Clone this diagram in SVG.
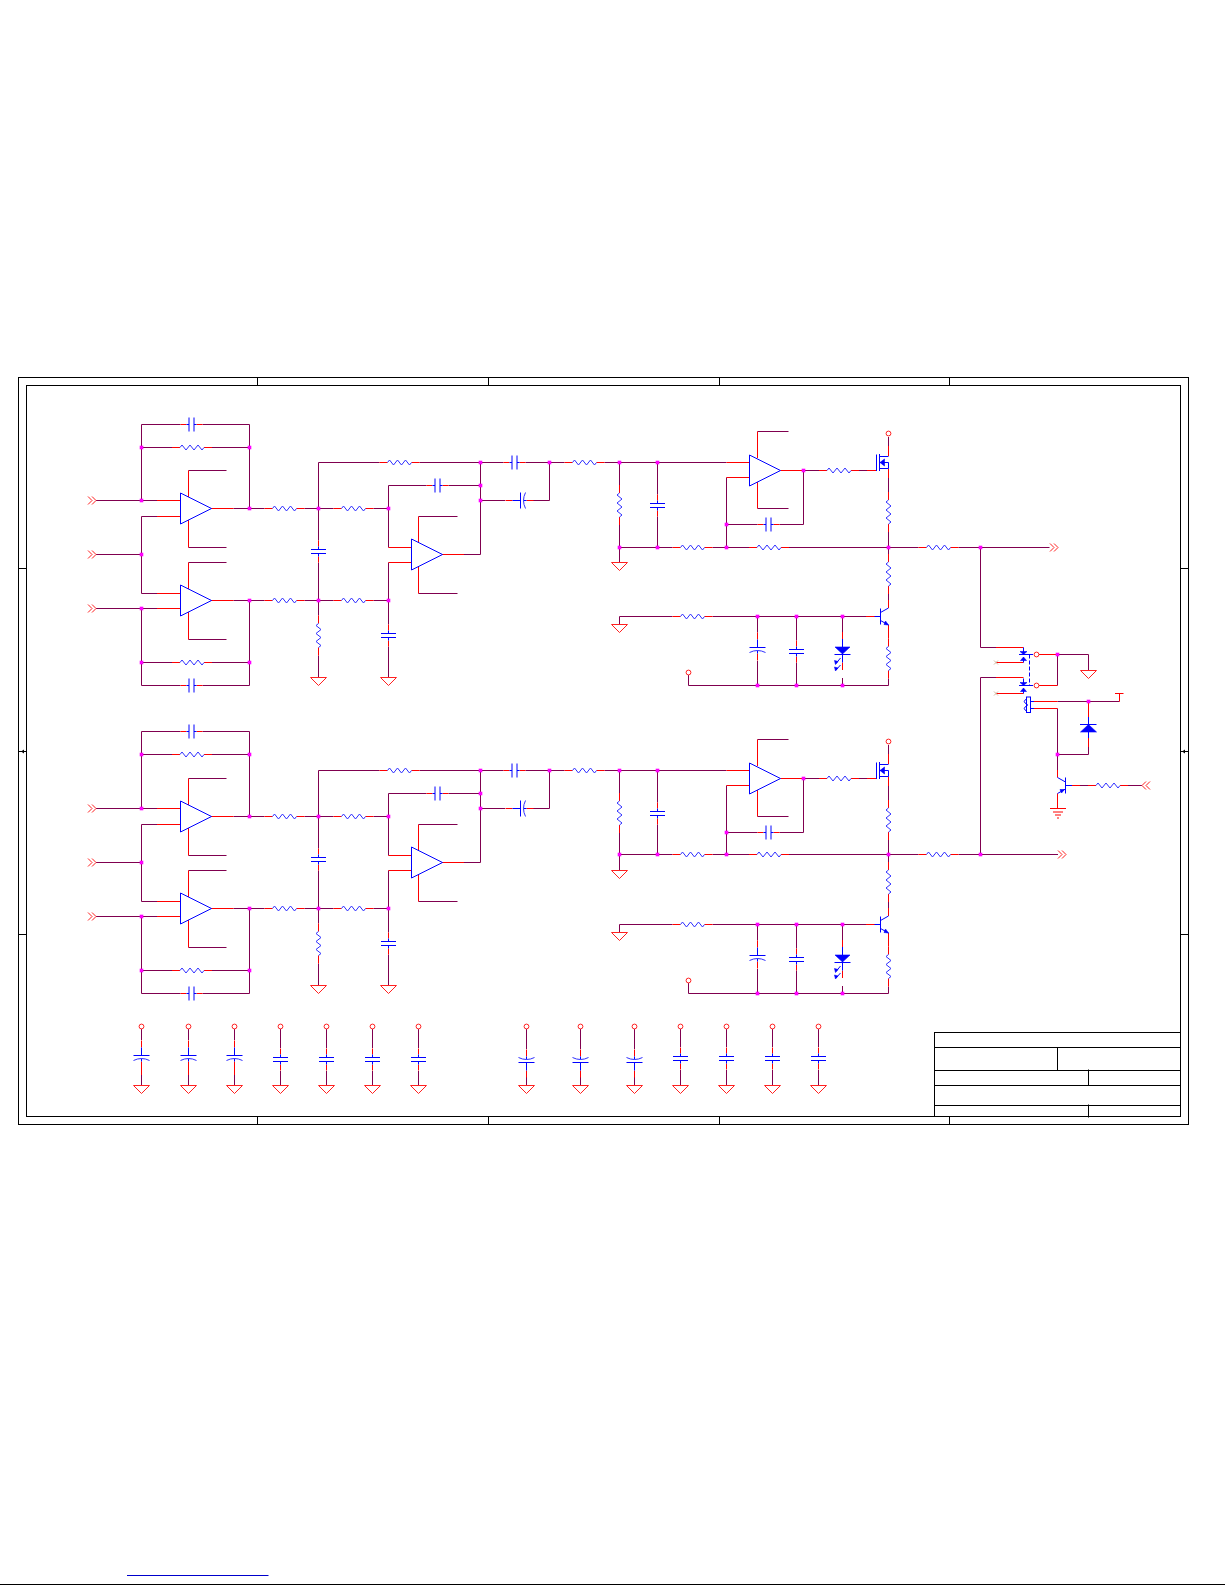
<svg xmlns="http://www.w3.org/2000/svg" xmlns:xlink="http://www.w3.org/1999/xlink" width="1225" height="1585" viewBox="0 0 1225 1585">
<style>
.w{fill:none;stroke:#80004f;stroke-width:1}
.p{fill:none;stroke:#ff0000;stroke-width:1}
.b{fill:none;stroke:#0000ff;stroke-width:1}
.r{fill:none;stroke:#3030ff;stroke-width:1}
.f{fill:#0000ff;stroke:#0000ff;stroke-width:.6}
.g{fill:none;stroke:#ff2020;stroke-width:1}
.k{fill:none;stroke:#000;stroke-width:1}
.c{fill:#fff;stroke:#ff2020;stroke-width:1}
.d{fill:#ff00ff}
</style>
<defs>
<g id="res"><path class="p" d="M-20 0H-12M12 0H20"/><path class="r" d="M-12 0L-10 -2.5L-6 2.5L-2 -2.5L2 2.5L6 -2.5L10 2.5L12 0"/></g>
<g id="resv"><path class="p" d="M0 -20V-12M0 12V20"/><path class="r" d="M0 -12L-2.5 -10L2.5 -6L-2.5 -2L2.5 2L-2.5 6L2.5 10L0 12"/></g>
<g id="caph"><path class="p" d="M-11 0H-5M5 0H11"/><path class="b" d="M-5 0H-2.5M2.5 0H5M-2.5 -7V7M2.5 -7V7"/></g>
<g id="capv"><path class="p" d="M0 -11V-5M0 5V11"/><path class="b" d="M0 -5V-2M0 2V5M-7.5 -2H7.5M-7.5 2H7.5"/></g>
<g id="capp"><path class="p" d="M0 -15V-8M0 6V13"/><path class="b" d="M0 -8V0M-8 0H8M0 3V6"/><path class="r" d="M-8 5Q0 1 8 5"/></g>
<path id="opamp" class="b" d="M0 -15.5L31 0L0 15.5Z"/>
<path id="gnd" class="g" d="M-8 0H8L0 8Z"/>
<path id="chevr" class="g" d="M0 -4L4 0L0 4M4 -4L8 0L4 4"/>
<path id="chevl" class="g" d="M4 -4L0 0L4 4M8 -4L4 0L8 4"/>
<circle id="term" class="c" r="2.4"/>
<g id="nmos"><path class="b" d="M-12 -8V8.5M-9 -8.5V8.5M-9 -6H0M-9 6H0V0H-9"/><path class="f" d="M-8.500 0L-4 -3.500V3.500Z"/></g>
<g id="npn"><path class="b" d="M0 -8V8M0 -4L8 -8.500M0 4L8 8.500M-6 0H0"/><path class="f" d="M8 8.500L3.500 8L5 4.500Z"/></g>
<g id="led"><path class="p" d="M0 -15V-8M0 15.500V23"/><path class="b" d="M0 -8V15.500M-8 7.500H8"/><path class="f" d="M-7.500 0H7.500L0 7Z"/><path class="b" d="M-2 11L-6.500 16.500M-2 18L-6.500 23"/><path class="f" d="M-8 13.500L-4.500 14.500L-7 17.500ZM-8 20L-4.500 21L-7 24Z"/></g>
<g id="sw"><path class="b" d="M0 -7V0M-4.500 0H9.500M0 3V8"/><path class="f" d="M-3.500 -3H3.500L0 0ZM0 2.500L3 6H-3Z"/></g>
<path id="dot" class="d" d="M-1.800 -1.800H1.800V1.800H-1.800Z"/>
</defs>

<g id="frame">
<rect class="k" x="18.500" y="377.500" width="1170" height="747"/>
<rect class="k" x="26.500" y="385.500" width="1154" height="731"/>
<path class="k" d="M257.500 377.500V385.500M488.500 377.500V385.500M719.500 377.500V385.500M949.500 377.500V385.500M257.500 1116.500V1124.500M488.500 1116.500V1124.500M719.500 1116.500V1124.500M949.500 1116.500V1124.500M18.500 568.500H26.500M18.500 751.500H26.500M18.500 934.500H26.500M1180.500 568.500H1188.500M1180.500 751.500H1188.500M1180.500 934.500H1188.500"/>
<path d="M21 751.500L24 749.500V753.500ZM1182 751.500L1185 749.500V753.500Z" fill="#000"/>
</g>
<g id="title-block">
<path class="k" d="M934.500 1032.500H1180.500M934.500 1047.500H1180.500M934.500 1070.500H1180.500M934.500 1085.500H1180.500M934.500 1105.500H1180.500M934.500 1032V1116.500M1057.500 1047.500V1070.500M1088.500 1069.500V1085.500M1088.500 1104.500V1117.500"/>
</g>

<g id="connectors">
<g id="wires-a">
<path class="w" d="M141.500 500.500V424.500H180.500M202.500 424.500H249.500V508.500M141.500 447.500H172M212 447.500H249.500M96 500.500H157M157 516.500H141.500V593.500H157M96 554.500H141.500M96 608.500H157M141.500 608.500V685.500H180.500M202.500 685.500H249.500V600.500M141.500 662.500H172M212 662.500H249.500M233.500 508.500H264.500M304.500 508.500H333.500M373.500 508.500H388.500M233.500 600.500H264.500M304.500 600.500H333.500M373.500 600.500H388.500M188.500 470.500H226.500M188.500 547.500H226.500M188.500 562.500H226.500M188.500 639.500H226.500M318.500 462.500V540.500M318.500 562.500V615.500M318.500 655.500V677.500M318.500 462.500H379.500M419.500 462.500H503.500M525.500 462.500H564.500M604.500 462.500H726.500M388.500 547.500V485.500H426.500M448.500 485.500H480.500M388.500 562.500V624.500M388.500 646.500V677.500M418.500 516.500H457.500M418.500 593.500H457.500M464 554.500H480.500V462.500M480.500 500.500H505M533 500.500H549.500V462.500M619.500 462.500V485M619.500 525V562.500M657.500 462.500V494.500M657.500 516.500V547.500M619.500 547.500H672.500M712.500 547.500H749M789 547.500H918.500M726.500 477.500V547.500M726.500 524.500H757.500M779.500 524.500H803.500V470.500M803.500 470.500H819M859 470.500H867M757.500 431.500H788.500M757.500 508.500H788.500M888.500 437V446M888.500 478V492M888.500 532V554M888.500 594V600M888.500 678.500V685.500H688.500V675M619.500 616.500H672.500M712.500 616.500H866M619.500 616.500V624.500M757.500 616.500V632.500M757.500 661V685.500M796.500 616.500V640.500M796.500 662.500V685.500M842.500 616.500V632.500M842.500 678V685.500"/>
<path class="p" d="M157 500.500H180.500M157 516.500H180.500M157 593.500H180.500M157 608.500H180.500M211 508.500H233.500M211 600.500H233.500M188.500 470.500V497M188.500 520V547.500M188.500 562.500V589M188.500 612V639.500M388.500 547.500H411.500M388.500 562.500H411.500M418.500 516.500V543M418.500 566V593.500M442 554.500H464M726.500 462.500H749.500M726.500 477.500H749.500M757.500 431.500V458M757.500 482V508.500M780.500 470.500H803.500M867 470.500H876M888.500 446V456M888.500 468.500V478M888.500 600V608M888.500 625V638.500M866 616.500H875"/>
</g>
<g id="wires-b" transform="translate(0,308)">
<path class="w" d="M141.500 500.500V423.500H180.500M202.500 423.500H249.500V508.500M141.500 446.500H172M212 446.500H249.500M96 500.500H157M157 516.500H141.500V593.500H157M96 554.500H141.500M96 608.500H157M141.500 608.500V685.500H180.500M202.500 685.500H249.500V600.500M141.500 662.500H172M212 662.500H249.500M233.500 508.500H264.500M304.500 508.500H333.500M373.500 508.500H388.500M233.500 600.500H264.500M304.500 600.500H333.500M373.500 600.500H388.500M188.500 470.500H226.500M188.500 547.500H226.500M188.500 562.500H226.500M188.500 639.500H226.500M318.500 462.500V540.500M318.500 562.500V615.500M318.500 655.500V677.500M318.500 462.500H379.500M419.500 462.500H503.500M525.500 462.500H564.500M604.500 462.500H726.500M388.500 547.500V485.500H426.500M448.500 485.500H480.500M388.500 562.500V624.500M388.500 646.500V677.500M418.500 516.500H457.500M418.500 593.500H457.500M464 554.500H480.500V462.500M480.500 500.500H505M533 500.500H549.500V462.500M619.500 462.500V485M619.500 525V562.500M657.500 462.500V494.500M657.500 516.500V546.500M619.500 546.500H672.500M712.500 546.500H749M789 546.500H918.500M726.500 477.500V546.500M726.500 524.500H757.500M779.500 524.500H803.500V470.500M803.500 470.500H819M859 470.500H867M757.500 431.500H788.500M757.500 508.500H788.500M888.500 437V446M888.500 478V492M888.500 532V554M888.500 594V600M888.500 678.500V685.500H688.500V675M619.500 616.500H672.500M712.500 616.500H866M619.500 616.500V624.500M757.500 616.500V632.500M757.500 661V685.500M796.500 616.500V640.500M796.500 662.500V685.500M842.500 616.500V632.500M842.500 678V685.500"/>
<path class="p" d="M157 500.500H180.500M157 516.500H180.500M157 593.500H180.500M157 608.500H180.500M211 508.500H233.500M211 600.500H233.500M188.500 470.500V497M188.500 520V547.500M188.500 562.500V589M188.500 612V639.500M388.500 547.500H411.500M388.500 562.500H411.500M418.500 516.500V543M418.500 566V593.500M442 554.500H464M726.500 462.500H749.500M726.500 477.500H749.500M757.500 431.500V458M757.500 482V508.500M780.500 470.500H803.500M867 470.500H876M888.500 446V456M888.500 468.500V478M888.500 600V608M888.500 625V638.500M866 616.500H875"/>
</g>
<g id="wires-right">
<path class="w" d="M958.500 547.500H1049.500M958.500 854.500H1058M980.500 547.500V647.500H996M996 677.500H980.500V854.500M1057.500 654.500H1088.500V670.500M1057.500 685.500V654.500M1057.500 701.500H1119.500M1057.500 708.500V770M1057.500 754.500H1088.500V747M1080 785.500H1088M1128 785.500H1142"/>
<path class="p" d="M996 647.500H1023.500M996 677.500H1023.500M996 662.500H1023.500M996 693.500H1023.500M1039 654.500H1057.500M1039 685.500H1057.500M1034 701.500H1057.500M1034 708.500H1057.500M1119.500 701.500V693.500M1115 693.500H1123.500M1088.500 701.500V717M1088.500 738V747M1057.500 770V777.500M1057.500 793.500V808.500M1050 808.500H1066M1053 812H1063M1055 815H1061M1057 818H1059M1072 785.500H1080"/>
<path d="M994 660.500L998 664.500M998 660.500L994 664.500M994 691.500L998 695.500M998 691.500L994 695.500" fill="none" stroke="#d0b8a0" stroke-width="1"/>
</g>
<g id="wires-decoupling">
<path class="w" d="M141.500 1029V1040M141.500 1075V1085M188.500 1029V1040M188.500 1075V1085M234.500 1029V1040M234.500 1075V1085M280.500 1029V1048M280.500 1071V1085M326.500 1029V1048M326.500 1071V1085M372.500 1029V1048M372.500 1071V1085M418.500 1029V1048M418.500 1071V1085M526.500 1029V1049M526.500 1077V1085M580.500 1029V1049M580.500 1077V1085M634.500 1029V1049M634.500 1077V1085M680.500 1029V1047M680.500 1070V1085M726.500 1029V1047M726.500 1070V1085M772.500 1029V1047M772.500 1070V1085M818.500 1029V1047M818.500 1070V1085"/>
<path class="p" d="M141.500 1068V1075M188.500 1068V1075M234.500 1068V1075"/>
</g>
</g>

<g id="channel-a">
<g id="J1" transform="translate(88,500.500)"><use href="#chevr"/></g>
<g id="J2" transform="translate(88,554.500)"><use href="#chevr"/></g>
<g id="J3" transform="translate(88,608.500)"><use href="#chevr"/></g>
<g id="C1" transform="translate(191.500,424.500)"><use href="#caph"/></g>
<g id="R1" transform="translate(192,447.500)"><use href="#res"/></g>
<g id="U1A" transform="translate(180.500,508.500)"><use href="#opamp"/></g>
<g id="U1B" transform="translate(180.500,600.500)"><use href="#opamp"/></g>
<g id="R2" transform="translate(192,662.500)"><use href="#res"/></g>
<g id="C2" transform="translate(191.500,685.500)"><use href="#caph"/></g>
<g id="R3" transform="translate(284.500,508.500)"><use href="#res"/></g>
<g id="R4" transform="translate(284.500,600.500)"><use href="#res"/></g>
<g id="R5" transform="translate(353.500,508.500)"><use href="#res"/></g>
<g id="R6" transform="translate(353.500,600.500)"><use href="#res"/></g>
<g id="C3" transform="translate(318.500,551.500)"><use href="#capv"/></g>
<g id="R7" transform="translate(318.500,635.500)"><use href="#resv"/></g>
<g id="C4" transform="translate(388.500,635.500)"><use href="#capv"/></g>
<g id="G1" transform="translate(318.500,677.500)"><use href="#gnd"/></g>
<g id="G2" transform="translate(388.500,677.500)"><use href="#gnd"/></g>
<g id="R8" transform="translate(399.500,462.500)"><use href="#res"/></g>
<g id="C5" transform="translate(437.500,485.500)"><use href="#caph"/></g>
<g id="U2A" transform="translate(411.500,554.500)"><use href="#opamp"/></g>
<g id="C6" transform="translate(514.500,462.500)"><use href="#caph"/></g>
<g id="C7" transform="translate(520.500,500.500) rotate(-90)"><use href="#capp"/></g>
<g id="R9" transform="translate(584.500,462.500)"><use href="#res"/></g>
<g id="R10" transform="translate(619.500,505)"><use href="#resv"/></g>
<g id="C8" transform="translate(657.500,505.500)"><use href="#capv"/></g>
<g id="G3" transform="translate(619.500,562.500)"><use href="#gnd"/></g>
<g id="R11" transform="translate(692.500,547.500)"><use href="#res"/></g>
<g id="R12" transform="translate(769,547.500)"><use href="#res"/></g>
<g id="U2B" transform="translate(749.500,470.500)"><use href="#opamp"/></g>
<g id="C9" transform="translate(768.500,524.500)"><use href="#caph"/></g>
<g id="R13" transform="translate(839,470.500)"><use href="#res"/></g>
<g id="Q1" transform="translate(888.500,462.500)"><use href="#nmos"/></g>
<g id="T1" transform="translate(888.500,433.500)"><use href="#term"/></g>
<g id="R14" transform="translate(888.500,512)"><use href="#resv"/></g>
<g id="R15" transform="translate(888.500,574)"><use href="#resv"/></g>
<g id="R16" transform="translate(938.500,547.500)"><use href="#res"/></g>
<g id="Q2" transform="translate(880.500,616.500)"><use href="#npn"/></g>
<g id="R17" transform="translate(888.500,658.500)"><use href="#resv"/></g>
<g id="R18" transform="translate(692.500,616.500)"><use href="#res"/></g>
<g id="G4" transform="translate(619.500,624.500)"><use href="#gnd"/></g>
<g id="C10" transform="translate(757.500,647.500)"><use href="#capp"/></g>
<g id="C11" transform="translate(796.500,651.500)"><use href="#capv"/></g>
<g id="D1" transform="translate(842.500,647)"><use href="#led"/></g>
<g id="T2" transform="translate(688.500,672.500)"><use href="#term"/></g>
<g id="junctions-a">
<use href="#dot" x="141.500" y="447.500"/><use href="#dot" x="249.500" y="447.500"/><use href="#dot" x="141.500" y="500.500"/><use href="#dot" x="249.500" y="508.500"/><use href="#dot" x="141.500" y="554.500"/><use href="#dot" x="141.500" y="608.500"/><use href="#dot" x="249.500" y="600.500"/><use href="#dot" x="141.500" y="662.500"/><use href="#dot" x="249.500" y="662.500"/><use href="#dot" x="318.500" y="508.500"/><use href="#dot" x="388.500" y="508.500"/><use href="#dot" x="318.500" y="600.500"/><use href="#dot" x="388.500" y="600.500"/><use href="#dot" x="480.500" y="462.500"/><use href="#dot" x="480.500" y="485.500"/><use href="#dot" x="480.500" y="500.500"/><use href="#dot" x="549.500" y="462.500"/><use href="#dot" x="619.500" y="462.500"/><use href="#dot" x="657.500" y="462.500"/><use href="#dot" x="619.500" y="547.500"/><use href="#dot" x="657.500" y="547.500"/><use href="#dot" x="726.500" y="547.500"/><use href="#dot" x="726.500" y="524.500"/><use href="#dot" x="803.500" y="470.500"/><use href="#dot" x="888.500" y="547.500"/><use href="#dot" x="757.500" y="616.500"/><use href="#dot" x="796.500" y="616.500"/><use href="#dot" x="842.500" y="616.500"/><use href="#dot" x="757.500" y="685.500"/><use href="#dot" x="796.500" y="685.500"/><use href="#dot" x="842.500" y="685.500"/>
</g>
</g>

<g id="channel-b" transform="translate(0,308)">
<g id="J4" transform="translate(88,500.500)"><use href="#chevr"/></g>
<g id="J5" transform="translate(88,554.500)"><use href="#chevr"/></g>
<g id="J6" transform="translate(88,608.500)"><use href="#chevr"/></g>
<g id="C12" transform="translate(191.500,423.500)"><use href="#caph"/></g>
<g id="R19" transform="translate(192,446.500)"><use href="#res"/></g>
<g id="U3A" transform="translate(180.500,508.500)"><use href="#opamp"/></g>
<g id="U3B" transform="translate(180.500,600.500)"><use href="#opamp"/></g>
<g id="R20" transform="translate(192,662.500)"><use href="#res"/></g>
<g id="C13" transform="translate(191.500,685.500)"><use href="#caph"/></g>
<g id="R21" transform="translate(284.500,508.500)"><use href="#res"/></g>
<g id="R22" transform="translate(284.500,600.500)"><use href="#res"/></g>
<g id="R23" transform="translate(353.500,508.500)"><use href="#res"/></g>
<g id="R24" transform="translate(353.500,600.500)"><use href="#res"/></g>
<g id="C14" transform="translate(318.500,551.500)"><use href="#capv"/></g>
<g id="R25" transform="translate(318.500,635.500)"><use href="#resv"/></g>
<g id="C15" transform="translate(388.500,635.500)"><use href="#capv"/></g>
<g id="G5" transform="translate(318.500,677.500)"><use href="#gnd"/></g>
<g id="G6" transform="translate(388.500,677.500)"><use href="#gnd"/></g>
<g id="R26" transform="translate(399.500,462.500)"><use href="#res"/></g>
<g id="C16" transform="translate(437.500,485.500)"><use href="#caph"/></g>
<g id="U4A" transform="translate(411.500,554.500)"><use href="#opamp"/></g>
<g id="C17" transform="translate(514.500,462.500)"><use href="#caph"/></g>
<g id="C18" transform="translate(520.500,500.500) rotate(-90)"><use href="#capp"/></g>
<g id="R27" transform="translate(584.500,462.500)"><use href="#res"/></g>
<g id="R28" transform="translate(619.500,505)"><use href="#resv"/></g>
<g id="C19" transform="translate(657.500,505.500)"><use href="#capv"/></g>
<g id="G7" transform="translate(619.500,562.500)"><use href="#gnd"/></g>
<g id="R29" transform="translate(692.500,546.500)"><use href="#res"/></g>
<g id="R30" transform="translate(769,546.500)"><use href="#res"/></g>
<g id="U4B" transform="translate(749.500,470.500)"><use href="#opamp"/></g>
<g id="C20" transform="translate(768.500,524.500)"><use href="#caph"/></g>
<g id="R31" transform="translate(839,470.500)"><use href="#res"/></g>
<g id="Q3" transform="translate(888.500,462.500)"><use href="#nmos"/></g>
<g id="T3" transform="translate(888.500,433.500)"><use href="#term"/></g>
<g id="R32" transform="translate(888.500,512)"><use href="#resv"/></g>
<g id="R33" transform="translate(888.500,574)"><use href="#resv"/></g>
<g id="R34" transform="translate(938.500,546.500)"><use href="#res"/></g>
<g id="Q4" transform="translate(880.500,616.500)"><use href="#npn"/></g>
<g id="R35" transform="translate(888.500,658.500)"><use href="#resv"/></g>
<g id="R36" transform="translate(692.500,616.500)"><use href="#res"/></g>
<g id="G8" transform="translate(619.500,624.500)"><use href="#gnd"/></g>
<g id="C21" transform="translate(757.500,647.500)"><use href="#capp"/></g>
<g id="C22" transform="translate(796.500,651.500)"><use href="#capv"/></g>
<g id="D2" transform="translate(842.500,647)"><use href="#led"/></g>
<g id="T4" transform="translate(688.500,672.500)"><use href="#term"/></g>
<g id="junctions-b">
<use href="#dot" x="141.500" y="446.500"/><use href="#dot" x="249.500" y="446.500"/><use href="#dot" x="141.500" y="500.500"/><use href="#dot" x="249.500" y="508.500"/><use href="#dot" x="141.500" y="554.500"/><use href="#dot" x="141.500" y="608.500"/><use href="#dot" x="249.500" y="600.500"/><use href="#dot" x="141.500" y="662.500"/><use href="#dot" x="249.500" y="662.500"/><use href="#dot" x="318.500" y="508.500"/><use href="#dot" x="388.500" y="508.500"/><use href="#dot" x="318.500" y="600.500"/><use href="#dot" x="388.500" y="600.500"/><use href="#dot" x="480.500" y="462.500"/><use href="#dot" x="480.500" y="485.500"/><use href="#dot" x="480.500" y="500.500"/><use href="#dot" x="549.500" y="462.500"/><use href="#dot" x="619.500" y="462.500"/><use href="#dot" x="657.500" y="462.500"/><use href="#dot" x="619.500" y="546.500"/><use href="#dot" x="657.500" y="546.500"/><use href="#dot" x="726.500" y="546.500"/><use href="#dot" x="726.500" y="524.500"/><use href="#dot" x="803.500" y="470.500"/><use href="#dot" x="888.500" y="546.500"/><use href="#dot" x="757.500" y="616.500"/><use href="#dot" x="796.500" y="616.500"/><use href="#dot" x="842.500" y="616.500"/><use href="#dot" x="757.500" y="685.500"/><use href="#dot" x="796.500" y="685.500"/><use href="#dot" x="842.500" y="685.500"/>
</g>
</g>

<g id="output-stage">
<g id="J7" transform="translate(1050,547.500)"><use href="#chevr"/></g>
<g id="J8" transform="translate(1058,854.500)"><use href="#chevr"/></g>
<g id="K1A" transform="translate(1023.500,654.500)"><use href="#sw"/></g>
<g id="K1B" transform="translate(1023.500,685.500)"><use href="#sw"/></g>
<path id="K1-link" class="b" d="M1029.500 654.500V685.500" stroke-dasharray="4 2"/>
<g id="T5" transform="translate(1036.500,654.500)"><use href="#term"/></g>
<g id="T6" transform="translate(1036.500,685.500)"><use href="#term"/></g>
<g id="K1-coil"><rect class="b" x="1026.500" y="697" width="4" height="15.500"/><path class="b" d="M1034 701.500H1030.500M1034 708.500H1030.500M1026.500 699Q1022 701.500 1026.500 704Q1029 705 1026.500 706Q1022 708.500 1026.500 711"/></g>
<g id="G9" transform="translate(1088.500,670.500)"><use href="#gnd"/></g>
<g id="D3"><path class="b" d="M1088.500 717V724.500M1088.500 732V738M1080 724.500H1096.500"/><path class="f" d="M1088.500 724.500L1096.500 732H1080.500Z"/></g>
<g id="Q5"><path class="b" d="M1065.500 777.500V793.500M1065.500 782L1057.500 777.500M1065.500 789L1057.500 793.500M1065.500 785.500H1072"/><path class="f" d="M1064.500 789.500L1060 789.500L1061.500 793Z"/></g>
<g id="R37" transform="translate(1108,785.500)"><use href="#res"/></g>
<g id="J9" transform="translate(1142,785.500)"><use href="#chevl"/></g>
<g id="junctions-c"><use href="#dot" x="980.500" y="547.500"/><use href="#dot" x="980.500" y="854.500"/><use href="#dot" x="1057.500" y="654.500"/><use href="#dot" x="1088.500" y="701.500"/><use href="#dot" x="1057.500" y="754.500"/></g>
</g>

<g id="decoupling">
<g id="DC1" transform="translate(141.500,1055.500)"><use href="#capp"/></g>
<g id="DC2" transform="translate(188.500,1055.500)"><use href="#capp"/></g>
<g id="DC3" transform="translate(234.500,1055.500)"><use href="#capp"/></g>
<g id="DC4" transform="translate(280.500,1059.500)"><use href="#capv"/></g>
<g id="DC5" transform="translate(326.500,1059.500)"><use href="#capv"/></g>
<g id="DC6" transform="translate(372.500,1059.500)"><use href="#capv"/></g>
<g id="DC7" transform="translate(418.500,1059.500)"><use href="#capv"/></g>
<g id="DC8" transform="translate(526.500,1062.500) rotate(180)"><use href="#capp"/></g>
<g id="DC9" transform="translate(580.500,1062.500) rotate(180)"><use href="#capp"/></g>
<g id="DC10" transform="translate(634.500,1062.500) rotate(180)"><use href="#capp"/></g>
<g id="DC11" transform="translate(680.500,1058.500)"><use href="#capv"/></g>
<g id="DC12" transform="translate(726.500,1058.500)"><use href="#capv"/></g>
<g id="DC13" transform="translate(772.500,1058.500)"><use href="#capv"/></g>
<g id="DC14" transform="translate(818.500,1058.500)"><use href="#capv"/></g>
<g id="decoupling-terminals">
<use href="#term" x="141.500" y="1026.500"/><use href="#term" x="188.500" y="1026.500"/><use href="#term" x="234.500" y="1026.500"/><use href="#term" x="280.500" y="1026.500"/><use href="#term" x="326.500" y="1026.500"/><use href="#term" x="372.500" y="1026.500"/><use href="#term" x="418.500" y="1026.500"/><use href="#term" x="526.500" y="1026.500"/><use href="#term" x="580.500" y="1026.500"/><use href="#term" x="634.500" y="1026.500"/><use href="#term" x="680.500" y="1026.500"/><use href="#term" x="726.500" y="1026.500"/><use href="#term" x="772.500" y="1026.500"/><use href="#term" x="818.500" y="1026.500"/>
</g>
<g id="decoupling-grounds">
<use href="#gnd" x="141.500" y="1085.500"/><use href="#gnd" x="188.500" y="1085.500"/><use href="#gnd" x="234.500" y="1085.500"/><use href="#gnd" x="280.500" y="1085.500"/><use href="#gnd" x="326.500" y="1085.500"/><use href="#gnd" x="372.500" y="1085.500"/><use href="#gnd" x="418.500" y="1085.500"/><use href="#gnd" x="526.500" y="1085.500"/><use href="#gnd" x="580.500" y="1085.500"/><use href="#gnd" x="634.500" y="1085.500"/><use href="#gnd" x="680.500" y="1085.500"/><use href="#gnd" x="726.500" y="1085.500"/><use href="#gnd" x="772.500" y="1085.500"/><use href="#gnd" x="818.500" y="1085.500"/>
</g>
</g>

<path id="page-link" d="M127 1575.500H268.500" stroke="#0000cc" stroke-width="1" fill="none"/>
<path id="page-rule" d="M0 1584.500H1225" stroke="#000" stroke-width="1" fill="none"/>
</svg>
